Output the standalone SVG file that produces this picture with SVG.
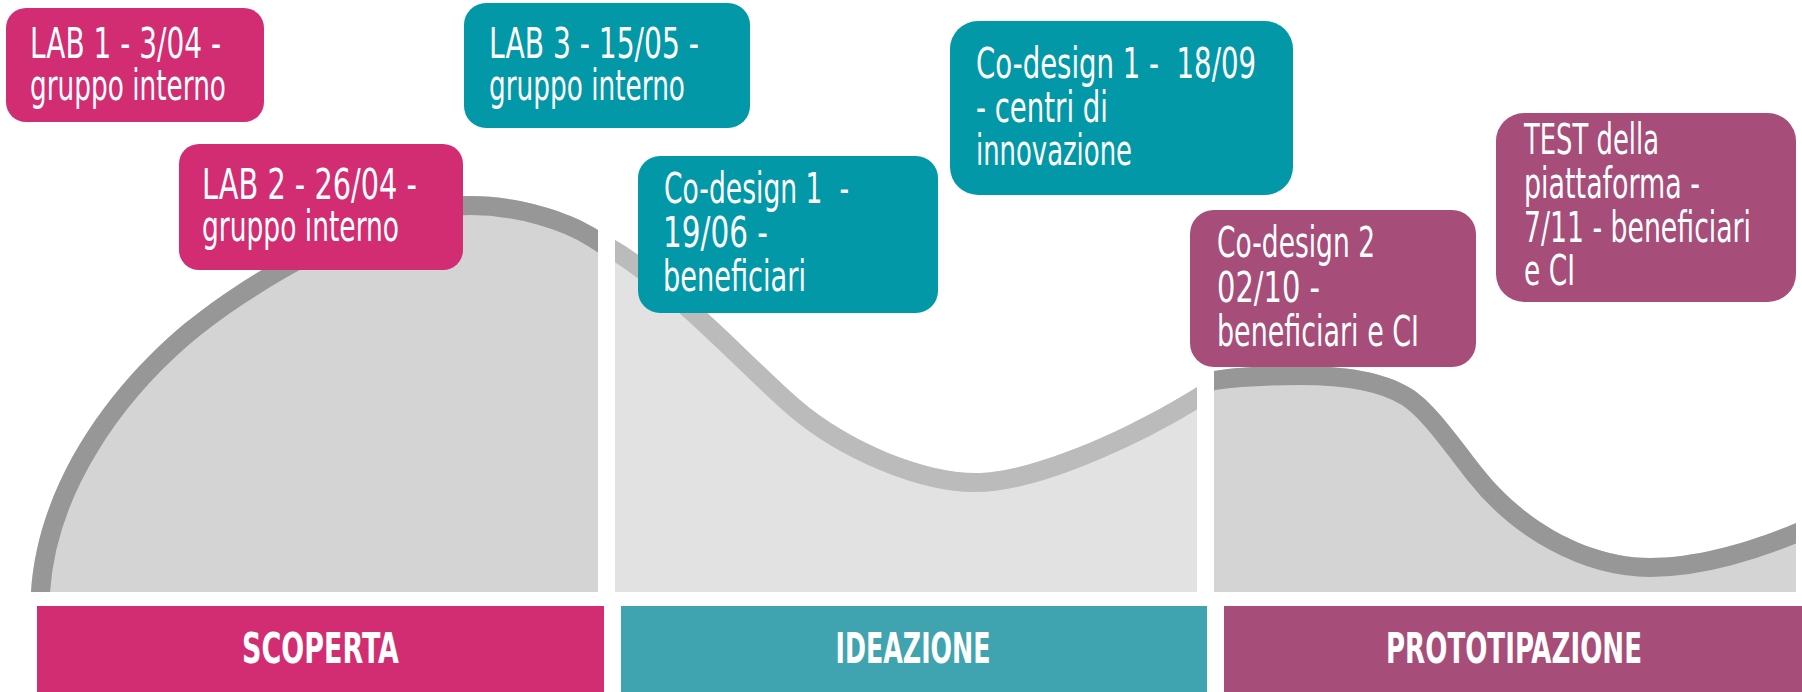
<svg xmlns="http://www.w3.org/2000/svg" width="1802" height="692" viewBox="0 0 1802 692">
<style>
.t{font-family:"Liberation Sans Narrow","DejaVu Sans Condensed","Liberation Sans",sans-serif;font-size:42px;fill:#ffffff;}
.h{font-weight:bold;text-anchor:middle;}
.pink{fill:#d22d72;}
.teal{fill:#0398a8;}
.mauve{fill:#a64d79;}
.dark{fill:#d4d4d4;}
.light{fill:#e2e2e2;}
.bandD{fill:none;stroke:#979797;stroke-width:38;}
.bandL{fill:none;stroke:#bbbbbb;stroke-width:38;}
</style>
<defs>
<path id="c1" d="M28.5,612 L31,592 C38,482 110,388 177,330 C237,279 370,196 470,196 C520,196 570,212 598,230 L620,244"/>
<path id="s1" d="M28.5,612 L31,592 C38,482 110,388 177,330 C237,279 370,196 470,196 C520,196 570,212 598,230 L620,244 L620,612 Z"/>
<path id="c2" d="M600,231.5 L615,240 C675,274 760,366 800,400 C850,443 925,473 975,473 C1040,473 1147,419 1197,387 L1215,376"/>
<path id="s2" d="M600,231.5 L615,240 C675,274 760,366 800,400 C850,443 925,473 975,473 C1040,473 1147,419 1197,387 L1215,376 L1215,612 L600,612 Z"/>
<path id="c3" d="M1200,374 L1214,371 C1240,367 1265,366 1300,366 C1345,366 1385,372 1412,389 C1435,404 1457,436 1482,468 C1525,523 1590,558 1650,558 C1700,558 1756,540 1796,523 L1815,515"/>
<path id="s3" d="M1200,374 L1214,371 C1240,367 1265,366 1300,366 C1345,366 1385,372 1412,389 C1435,404 1457,436 1482,468 C1525,523 1590,558 1650,558 C1700,558 1756,540 1796,523 L1815,515 L1815,612 L1200,612 Z"/>
<clipPath id="k1"><use href="#s1"/></clipPath>
<clipPath id="k2"><use href="#s2"/></clipPath>
<clipPath id="k3"><use href="#s3"/></clipPath>
<clipPath id="r1"><rect x="0" y="0" width="598" height="592"/></clipPath>
<clipPath id="r2"><rect x="615" y="0" width="582" height="592"/></clipPath>
<clipPath id="r3"><rect x="1214" y="0" width="582" height="592"/></clipPath>
</defs>

<g id="curve-scoperta" clip-path="url(#r1)">
<use href="#s1" class="dark"/>
<use href="#c1" class="bandD" clip-path="url(#k1)"/>
</g>
<g id="curve-ideazione" clip-path="url(#r2)">
<use href="#s2" class="light"/>
<use href="#c2" class="bandL" clip-path="url(#k2)"/>
</g>
<g id="curve-prototipazione" clip-path="url(#r3)">
<use href="#s3" class="dark"/>
<use href="#c3" class="bandD" clip-path="url(#k3)"/>
</g>

<g id="connectors"></g>

<g id="lab1">
<rect class="pink" x="6" y="8" width="258" height="114" rx="20"/>
<text class="t" x="30" y="58" textLength="191" lengthAdjust="spacingAndGlyphs">LAB 1 - 3/04 -</text>
<text class="t" x="30" y="100" textLength="196" lengthAdjust="spacingAndGlyphs">gruppo interno</text>
</g>
<g id="lab2">
<rect class="pink" x="179" y="144" width="284" height="126" rx="20"/>
<text class="t" x="202" y="199" textLength="215" lengthAdjust="spacingAndGlyphs">LAB 2 - 26/04 -</text>
<text class="t" x="202" y="241" textLength="197" lengthAdjust="spacingAndGlyphs">gruppo interno</text>
</g>
<g id="lab3">
<rect class="teal" x="464" y="3" width="286" height="125" rx="22"/>
<text class="t" x="489" y="58" textLength="210" lengthAdjust="spacingAndGlyphs">LAB 3 - 15/05 -</text>
<text class="t" x="489" y="100" textLength="196" lengthAdjust="spacingAndGlyphs">gruppo interno</text>
</g>
<g id="codesign1-beneficiari">
<rect class="teal" x="638" y="156" width="300" height="157" rx="22"/>
<text class="t" x="664" y="203" textLength="185" lengthAdjust="spacingAndGlyphs" xml:space="preserve">Co-design 1  -</text>
<text class="t" x="663" y="247" textLength="105" lengthAdjust="spacingAndGlyphs">19/06 -</text>
<text class="t" x="663" y="291" textLength="143" lengthAdjust="spacingAndGlyphs">beneficiari</text>
</g>
<g id="codesign1-centri">
<rect class="teal" x="950" y="21" width="343" height="174" rx="28"/>
<text class="t" x="976" y="78" textLength="280" lengthAdjust="spacingAndGlyphs" xml:space="preserve">Co-design 1 -  18/09</text>
<text class="t" x="976" y="122" textLength="132" lengthAdjust="spacingAndGlyphs">- centri di</text>
<text class="t" x="976" y="165" textLength="156" lengthAdjust="spacingAndGlyphs">innovazione</text>
</g>
<g id="codesign2">
<rect class="mauve" x="1190" y="210" width="286" height="157" rx="24"/>
<text class="t" x="1217" y="257" textLength="158" lengthAdjust="spacingAndGlyphs">Co-design 2</text>
<text class="t" x="1217" y="302" textLength="103" lengthAdjust="spacingAndGlyphs">02/10 -</text>
<text class="t" x="1217" y="346" textLength="202" lengthAdjust="spacingAndGlyphs">beneficiari e CI</text>
</g>
<g id="test">
<rect class="mauve" x="1496" y="113" width="300" height="189" rx="28"/>
<text class="t" x="1524" y="154" textLength="135" lengthAdjust="spacingAndGlyphs">TEST della</text>
<text class="t" x="1524" y="198" textLength="176" lengthAdjust="spacingAndGlyphs">piattaforma -</text>
<text class="t" x="1524" y="242" textLength="227" lengthAdjust="spacingAndGlyphs">7/11 - beneficiari</text>
<text class="t" x="1524" y="285" textLength="51" lengthAdjust="spacingAndGlyphs">e CI</text>
</g>

<g id="phase-scoperta">
<rect class="pink" x="37" y="606" width="567" height="86"/>
<text class="t h" x="320.5" y="663" textLength="157" lengthAdjust="spacingAndGlyphs">SCOPERTA</text>
</g>
<g id="phase-ideazione">
<rect x="621" y="606" width="586" height="86" fill="#3fa4af"/>
<text class="t h" x="913" y="663" textLength="155" lengthAdjust="spacingAndGlyphs">IDEAZIONE</text>
</g>
<g id="phase-prototipazione">
<rect class="mauve" x="1224" y="606" width="578" height="86"/>
<text class="t h" x="1514" y="663" textLength="256" lengthAdjust="spacingAndGlyphs">PROTOTIPAZIONE</text>
</g>
</svg>
